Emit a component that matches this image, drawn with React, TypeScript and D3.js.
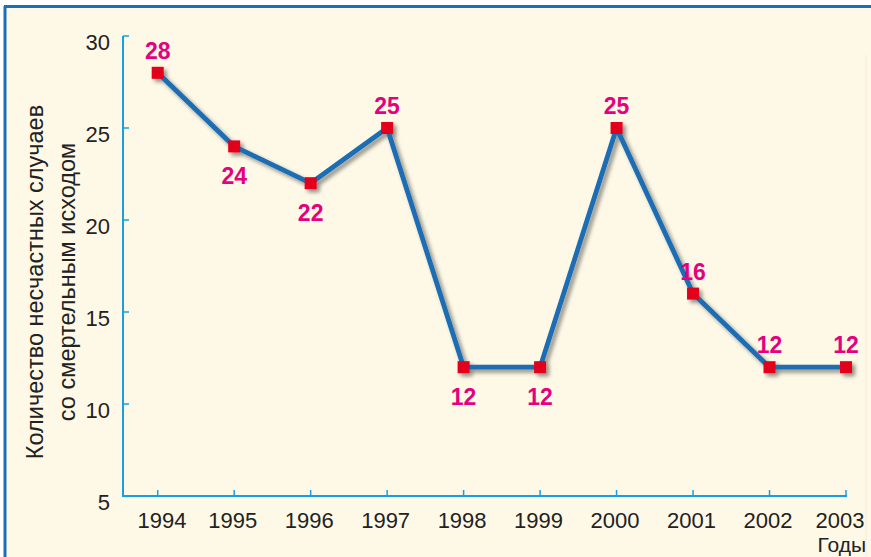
import React from "react";
import * as d3 from "d3";

const years = ["1994", "1995", "1996", "1997", "1998", "1999", "2000", "2001", "2002", "2003"];
const values = [28, 24, 22, 25, 12, 12, 25, 16, 12, 12];
const labelPlacement = ["above", "below", "below", "above", "below", "below", "above", "above", "above", "above"];
const yTicks = [5, 10, 15, 20, 25, 30];
const yTitleLines = ["Количество несчастных случаев", "со смертельным исходом"];
const xTitle = "Годы";

const W = 871;
const H = 557;
const FONT = "Arial, 'Liberation Sans', Helvetica, sans-serif";

export default function App() {
  const x = d3.scalePoint<string>().domain(years).range([157.7, 846]);
  const y = d3.scaleLinear().domain([5, 30]).range([496, 36]);
  const axisLeft = 123;
  const axisRight = 846;
  const axisColor = "#14a0e3";

  const line = d3
    .line<number>()
    .x((_, i) => x(years[i]) as number)
    .y((d) => y(d));

  const pathD = line(values) || "";
  const labelX = (yr: string) => Math.min(Math.max((x(yr) as number) - 1.5, 162), 840);

  return (
    <svg
      width={W}
      height={H}
      style={{ position: "absolute", left: 0, top: 0, display: "block" }}
    >
      <defs>
        <filter id="shadow" x="-20%" y="-20%" width="140%" height="140%">
          <feGaussianBlur in="SourceAlpha" stdDeviation="2.2" />
          <feOffset dx="3" dy="3" result="blur" />
          <feComponentTransfer>
            <feFuncA type="linear" slope="0.45" />
          </feComponentTransfer>
          <feMerge>
            <feMergeNode />
            <feMergeNode in="SourceGraphic" />
          </feMerge>
        </filter>
      </defs>
      <rect x={0} y={0} width={W} height={H} fill="#ffffff" />
      <rect x={4} y={6} width={W - 4} height={H - 6} fill="#fef9e7" />
      {/* frame */}
      <line x1={5} y1={6} x2={5} y2={H} stroke="#1b6fb8" strokeWidth={3} />
      <line x1={4} y1={6.5} x2={W} y2={6.5} stroke="#1b6fb8" strokeWidth={3} />
      <line x1={866} y1={55} x2={866} y2={H} stroke="#f3ecd9" strokeWidth={1} />

      {/* axes */}
      <line x1={axisLeft} y1={y(30)} x2={axisLeft} y2={y(5) + 1} stroke={axisColor} strokeWidth={2} />
      <line x1={axisLeft} y1={y(5)} x2={axisRight + 1} y2={y(5)} stroke={axisColor} strokeWidth={2} />
      {yTicks.map((t) => (
        <g key={"yt" + t}>
          {t !== 5 && (
            <line x1={axisLeft} y1={y(t)} x2={axisLeft + 6} y2={y(t)} stroke={axisColor} strokeWidth={1.5} />
          )}
          <text
            x={110}
            y={y(t) + 13.5}
            textAnchor="end"
            fontFamily={FONT}
            fontSize={22}
            fill="#222"
          >
            {t}
          </text>
        </g>
      ))}
      {years.map((yr) => (
        <g key={"xt" + yr}>
          <line
            x1={x(yr) as number}
            y1={y(5)}
            x2={x(yr) as number}
            y2={y(5) - 6}
            stroke={axisColor}
            strokeWidth={1.5}
          />
          <text
            x={labelX(yr)}
            y={528}
            textAnchor="middle"
            fontFamily={FONT}
            fontSize={22}
            fill="#222"
          >
            {yr}
          </text>
        </g>
      ))}
      <text x={866} y={551.5} textAnchor="end" fontFamily={FONT} fontSize={21} fill="#222">
        {xTitle}
      </text>

      {/* y title */}
      {yTitleLines.map((t, i) => (
        <text
          key={"ytl" + i}
          transform={`translate(${43 + i * 32},282) rotate(-90)`}
          textAnchor="middle"
          fontFamily={FONT}
          fontSize={23.5}
          fill="#222"
        >
          {t}
        </text>
      ))}

      {/* line */}
      <g filter="url(#shadow)">
        <path d={pathD} fill="none" stroke="#1a6db4" strokeWidth={4.8} strokeLinejoin="round" />
        {values.map((v, i) => (
          <rect
            key={"m" + i}
            x={(x(years[i]) as number) - 6}
            y={y(v) - 6}
            width={12}
            height={12}
            fill="#e3001b"
          />
        ))}
      </g>

      {/* labels */}
      {values.map((v, i) => (
        <text
          key={"l" + i}
          x={x(years[i]) as number}
          y={labelPlacement[i] === "above" ? y(v) - 14 : y(v) + 38}
          textAnchor="middle"
          fontFamily={FONT}
          fontSize={23}
          fontWeight="bold"
          fill="#e5007d"
        >
          {v}
        </text>
      ))}
    </svg>
  );
}
